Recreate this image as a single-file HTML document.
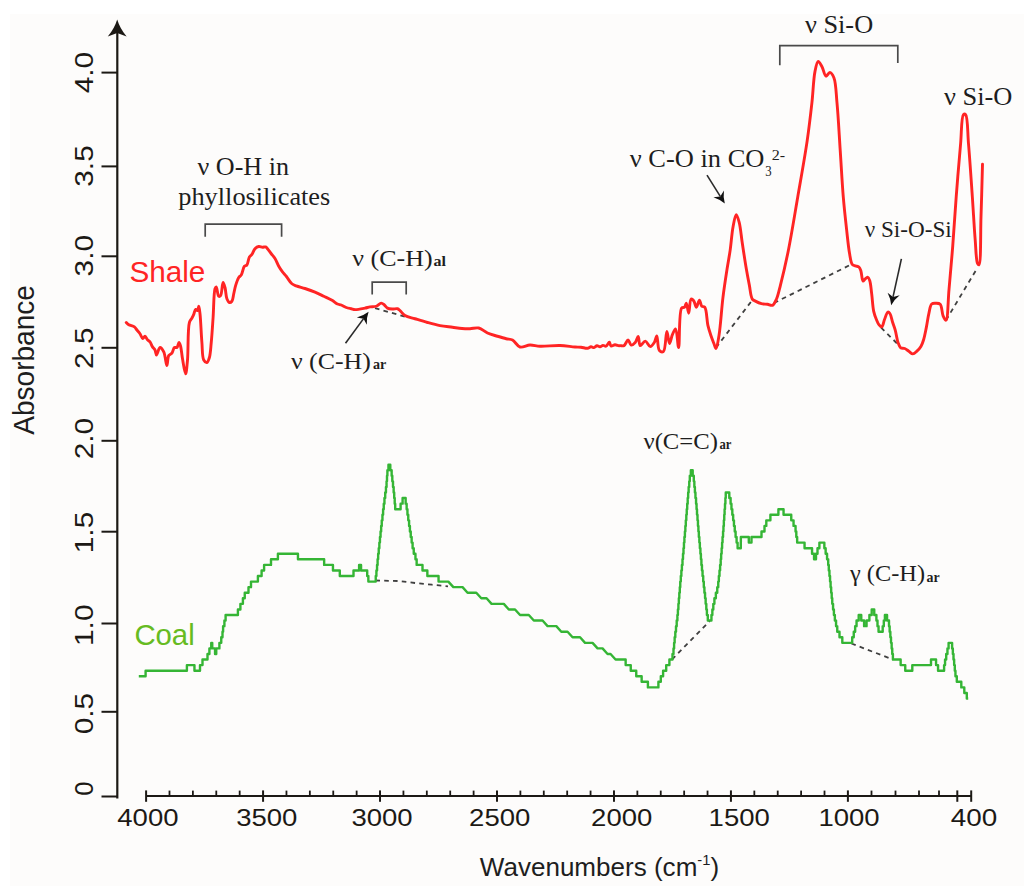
<!DOCTYPE html>
<html><head><meta charset="utf-8"><title>FTIR spectra</title>
<style>html,body{margin:0;padding:0;background:#fff;overflow:hidden}svg{display:block}
</style></head>
<body>
<svg width="1024" height="891" viewBox="0 0 1024 891"><rect x="0" y="0" width="1024" height="891" fill="#ffffff"/>
<rect x="10" y="14" width="1014" height="872" fill="#fdfcfb"/>
<line x1="117.3" y1="30" x2="117.3" y2="798.5" stroke="#1c1915" stroke-width="2.2"/>
<path d="M117.2,19.6 Q120.02,28.9 126.6,36.5 L117.2,32.9 L107.8,36.5 Q114.38,28.9 117.2,19.6 Z" fill="#1c1915"/>
<line x1="101.5" y1="72.6" x2="117.3" y2="72.6" stroke="#1c1915" stroke-width="2"/>
<text transform="translate(93.2,72.6) rotate(-90)" text-anchor="middle" font-family="Liberation Sans" font-size="25.5" fill="#1c1915" textLength="41.5" lengthAdjust="spacingAndGlyphs">4.0</text>
<line x1="101.5" y1="166.4" x2="117.3" y2="166.4" stroke="#1c1915" stroke-width="2"/>
<text transform="translate(93.2,166) rotate(-90)" text-anchor="middle" font-family="Liberation Sans" font-size="25.5" fill="#1c1915" textLength="41.5" lengthAdjust="spacingAndGlyphs">3.5</text>
<line x1="101.5" y1="256.3" x2="117.3" y2="256.3" stroke="#1c1915" stroke-width="2"/>
<text transform="translate(93.2,255.7) rotate(-90)" text-anchor="middle" font-family="Liberation Sans" font-size="25.5" fill="#1c1915" textLength="41.5" lengthAdjust="spacingAndGlyphs">3.0</text>
<line x1="101.5" y1="347.8" x2="117.3" y2="347.8" stroke="#1c1915" stroke-width="2"/>
<text transform="translate(93.2,348.2) rotate(-90)" text-anchor="middle" font-family="Liberation Sans" font-size="25.5" fill="#1c1915" textLength="41.5" lengthAdjust="spacingAndGlyphs">2.5</text>
<line x1="101.5" y1="440.8" x2="117.3" y2="440.8" stroke="#1c1915" stroke-width="2"/>
<text transform="translate(93.2,438.6) rotate(-90)" text-anchor="middle" font-family="Liberation Sans" font-size="25.5" fill="#1c1915" textLength="41.5" lengthAdjust="spacingAndGlyphs">2.0</text>
<line x1="101.5" y1="531.7" x2="117.3" y2="531.7" stroke="#1c1915" stroke-width="2"/>
<text transform="translate(93.2,532.5) rotate(-90)" text-anchor="middle" font-family="Liberation Sans" font-size="25.5" fill="#1c1915" textLength="41.5" lengthAdjust="spacingAndGlyphs">1.5</text>
<line x1="101.5" y1="623.5" x2="117.3" y2="623.5" stroke="#1c1915" stroke-width="2"/>
<text transform="translate(93.2,625.25) rotate(-90)" text-anchor="middle" font-family="Liberation Sans" font-size="25.5" fill="#1c1915" textLength="41.5" lengthAdjust="spacingAndGlyphs">1.0</text>
<line x1="101.5" y1="711.8" x2="117.3" y2="711.8" stroke="#1c1915" stroke-width="2"/>
<text transform="translate(93.2,713.6) rotate(-90)" text-anchor="middle" font-family="Liberation Sans" font-size="25.5" fill="#1c1915" textLength="41.5" lengthAdjust="spacingAndGlyphs">0.5</text>
<line x1="101.5" y1="796.5" x2="117.3" y2="796.5" stroke="#1c1915" stroke-width="2"/>
<text transform="translate(93.2,788.7) rotate(-90)" text-anchor="middle" font-family="Liberation Sans" font-size="25.5" fill="#1c1915">0</text>
<line x1="146.1" y1="796.0" x2="971.2" y2="796.0" stroke="#1c1915" stroke-width="2.2"/>
<line x1="146.1" y1="790.4" x2="146.1" y2="801.8" stroke="#1c1915" stroke-width="2"/>
<line x1="169.49" y1="790.6" x2="169.49" y2="796.0" stroke="#1c1915" stroke-width="1.8"/>
<line x1="192.89" y1="790.6" x2="192.89" y2="796.0" stroke="#1c1915" stroke-width="1.8"/>
<line x1="216.28" y1="790.6" x2="216.28" y2="796.0" stroke="#1c1915" stroke-width="1.8"/>
<line x1="239.67" y1="790.6" x2="239.67" y2="796.0" stroke="#1c1915" stroke-width="1.8"/>
<line x1="263.07" y1="790.4" x2="263.07" y2="801.8" stroke="#1c1915" stroke-width="2"/>
<line x1="286.46" y1="790.6" x2="286.46" y2="796.0" stroke="#1c1915" stroke-width="1.8"/>
<line x1="309.85" y1="790.6" x2="309.85" y2="796.0" stroke="#1c1915" stroke-width="1.8"/>
<line x1="333.25" y1="790.6" x2="333.25" y2="796.0" stroke="#1c1915" stroke-width="1.8"/>
<line x1="356.64" y1="790.6" x2="356.64" y2="796.0" stroke="#1c1915" stroke-width="1.8"/>
<line x1="380.03" y1="790.4" x2="380.03" y2="801.8" stroke="#1c1915" stroke-width="2"/>
<line x1="403.43" y1="790.6" x2="403.43" y2="796.0" stroke="#1c1915" stroke-width="1.8"/>
<line x1="426.82" y1="790.6" x2="426.82" y2="796.0" stroke="#1c1915" stroke-width="1.8"/>
<line x1="450.21" y1="790.6" x2="450.21" y2="796.0" stroke="#1c1915" stroke-width="1.8"/>
<line x1="473.61" y1="790.6" x2="473.61" y2="796.0" stroke="#1c1915" stroke-width="1.8"/>
<line x1="497" y1="790.4" x2="497" y2="801.8" stroke="#1c1915" stroke-width="2"/>
<line x1="520.39" y1="790.6" x2="520.39" y2="796.0" stroke="#1c1915" stroke-width="1.8"/>
<line x1="543.79" y1="790.6" x2="543.79" y2="796.0" stroke="#1c1915" stroke-width="1.8"/>
<line x1="567.18" y1="790.6" x2="567.18" y2="796.0" stroke="#1c1915" stroke-width="1.8"/>
<line x1="590.57" y1="790.6" x2="590.57" y2="796.0" stroke="#1c1915" stroke-width="1.8"/>
<line x1="613.97" y1="790.4" x2="613.97" y2="801.8" stroke="#1c1915" stroke-width="2"/>
<line x1="637.36" y1="790.6" x2="637.36" y2="796.0" stroke="#1c1915" stroke-width="1.8"/>
<line x1="660.75" y1="790.6" x2="660.75" y2="796.0" stroke="#1c1915" stroke-width="1.8"/>
<line x1="684.15" y1="790.6" x2="684.15" y2="796.0" stroke="#1c1915" stroke-width="1.8"/>
<line x1="707.54" y1="790.6" x2="707.54" y2="796.0" stroke="#1c1915" stroke-width="1.8"/>
<line x1="730.93" y1="790.4" x2="730.93" y2="801.8" stroke="#1c1915" stroke-width="2"/>
<line x1="754.33" y1="790.6" x2="754.33" y2="796.0" stroke="#1c1915" stroke-width="1.8"/>
<line x1="777.72" y1="790.6" x2="777.72" y2="796.0" stroke="#1c1915" stroke-width="1.8"/>
<line x1="801.11" y1="790.6" x2="801.11" y2="796.0" stroke="#1c1915" stroke-width="1.8"/>
<line x1="824.51" y1="790.6" x2="824.51" y2="796.0" stroke="#1c1915" stroke-width="1.8"/>
<line x1="847.9" y1="790.4" x2="847.9" y2="801.8" stroke="#1c1915" stroke-width="2"/>
<line x1="871.5" y1="790.6" x2="871.5" y2="796.0" stroke="#1c1915" stroke-width="1.8"/>
<line x1="895.5" y1="790.6" x2="895.5" y2="796.0" stroke="#1c1915" stroke-width="1.8"/>
<line x1="919" y1="790.6" x2="919" y2="796.0" stroke="#1c1915" stroke-width="1.8"/>
<line x1="939" y1="790.6" x2="939" y2="796.0" stroke="#1c1915" stroke-width="1.8"/>
<line x1="957.3" y1="790.4" x2="957.3" y2="801.8" stroke="#1c1915" stroke-width="2"/>
<line x1="971.2" y1="790.4" x2="971.2" y2="801.8" stroke="#1c1915" stroke-width="2"/>
<text x="147.9" y="826" text-anchor="middle" font-family="Liberation Sans" font-size="23.5" fill="#1c1915" textLength="61.2" lengthAdjust="spacingAndGlyphs">4000</text>
<text x="266.8" y="826" text-anchor="middle" font-family="Liberation Sans" font-size="23.5" fill="#1c1915" textLength="61.2" lengthAdjust="spacingAndGlyphs">3500</text>
<text x="382" y="826" text-anchor="middle" font-family="Liberation Sans" font-size="23.5" fill="#1c1915" textLength="61.2" lengthAdjust="spacingAndGlyphs">3000</text>
<text x="499.7" y="826" text-anchor="middle" font-family="Liberation Sans" font-size="23.5" fill="#1c1915" textLength="61.2" lengthAdjust="spacingAndGlyphs">2500</text>
<text x="621.7" y="826" text-anchor="middle" font-family="Liberation Sans" font-size="23.5" fill="#1c1915" textLength="61.2" lengthAdjust="spacingAndGlyphs">2000</text>
<text x="739.2" y="826" text-anchor="middle" font-family="Liberation Sans" font-size="23.5" fill="#1c1915" textLength="61.2" lengthAdjust="spacingAndGlyphs">1500</text>
<text x="849" y="826" text-anchor="middle" font-family="Liberation Sans" font-size="23.5" fill="#1c1915" textLength="61.2" lengthAdjust="spacingAndGlyphs">1000</text>
<text x="974" y="826" text-anchor="middle" font-family="Liberation Sans" font-size="23.5" fill="#1c1915" textLength="46.5" lengthAdjust="spacingAndGlyphs">400</text>
<text transform="translate(34.2,359.9) rotate(-90)" text-anchor="middle" font-family="Liberation Sans" font-size="30" fill="#1e1e1e" textLength="149.5" lengthAdjust="spacingAndGlyphs">Absorbance</text>
<text transform="translate(479.8,876.4) scale(0.983,1)" x="0" y="0" font-family="Liberation Sans" font-size="26.5" fill="#1e1e1e">Wavenumbers (cm<tspan font-size="15" dy="-11">-1</tspan><tspan dy="11">)</tspan></text>
<path d="M375,308.1 L405.6,316.9" fill="none" stroke="#404040" stroke-width="1.8" stroke-dasharray="4.6 4.2"/>
<path d="M716,347.6 L752.3,300.1" fill="none" stroke="#404040" stroke-width="1.8" stroke-dasharray="4.6 4.2"/>
<path d="M774,303 L850,265" fill="none" stroke="#404040" stroke-width="1.8" stroke-dasharray="4.6 4.2"/>
<path d="M881.1,327.6 L898.7,345.1" fill="none" stroke="#404040" stroke-width="1.8" stroke-dasharray="4.6 4.2"/>
<path d="M946,320.2 L977.5,267.7" fill="none" stroke="#404040" stroke-width="1.8" stroke-dasharray="4.6 4.2"/>
<path d="M375.4,580.5 L398,581 L415,583 L431.8,584.7 L448,586.4" fill="none" stroke="#404040" stroke-width="1.8" stroke-dasharray="4.6 4.2"/>
<path d="M672,659.5 L709.8,620.9" fill="none" stroke="#404040" stroke-width="1.8" stroke-dasharray="4.6 4.2"/>
<path d="M851.4,643.5 L893,659.5" fill="none" stroke="#404040" stroke-width="1.8" stroke-dasharray="4.6 4.2"/>
<path d="M126.25,322.5 C126.25,322.5 127.67,324.09 128.75,324.75 C130.19,325.63 132.99,325.88 134.4,326.9 C135.54,327.73 136.02,328.92 136.9,330 C137.87,331.19 139.05,332.38 140,333.75 C141.01,335.2 141.79,338.37 142.75,338.5 C143.48,338.6 144.27,336.19 145,336.25 C145.85,336.32 146.6,338.77 147.5,339.75 C148.28,340.61 149.25,340.94 150,341.9 C150.98,343.15 151.58,345.47 152.5,346.9 C153.27,348.1 154.35,348.77 155,350 C155.74,351.41 155.81,354.95 156.5,355 C157.37,355.06 158.65,347.68 160,347.5 C161.12,347.35 162.73,349.86 163.75,351.9 C165.35,355.08 166.03,365.62 166.9,365.6 C167.64,365.58 167.49,357.7 168.75,355.6 C169.54,354.28 171.02,354.24 171.9,353.1 C172.99,351.7 173.28,348.23 174.4,347.5 C175.12,347.04 176.21,347.96 176.9,347.5 C177.91,346.83 178.35,342.5 179,342.5 C179.57,342.5 180.13,344.6 180.6,346.25 C181.43,349.16 181.72,354.4 182.5,358.75 C183.36,363.53 184.76,373.78 185.6,373.75 C186.4,373.72 186.96,365.72 187.5,360 C188.39,350.59 187.57,328.78 189.4,322.5 C190.07,320.19 191.15,319.51 191.9,318.1 C192.58,316.82 193.17,315.74 193.75,314.4 C194.41,312.88 194.77,309.68 195.6,309.4 C196.14,309.22 197.01,310.79 197.5,310.6 C198.2,310.33 198.37,306.23 198.75,306.25 C199.24,306.28 199.61,310.43 200,313.75 C200.75,320.22 201.18,334.11 201.9,342.5 C202.46,349.06 202.06,356.93 203.75,360 C204.56,361.47 206.01,362.7 206.9,362.5 C207.95,362.27 208.74,359.69 209.4,357.5 C210.49,353.91 210.69,348.14 211.25,342.5 C211.97,335.23 212.5,326.13 213.1,317.5 C213.75,308.25 213.69,292.57 215,288.75 C215.36,287.69 215.84,286.83 216.25,286.9 C217.11,287.04 217.55,295.61 218.75,296.25 C219.29,296.54 220.07,296.22 220.6,295.6 C221.99,293.98 222.16,282.58 223.1,282.5 C223.69,282.45 224.45,285.47 225,287.5 C225.81,290.47 225.84,296.08 226.9,298.75 C227.57,300.43 228.44,302.25 229.4,302.5 C230.16,302.7 231.24,302.07 231.9,301.25 C233,299.88 233.14,296.3 233.75,293.75 C234.38,291.09 234.78,288.28 235.6,285.6 C236.44,282.86 237.54,279.35 238.75,277.5 C239.52,276.32 240.49,276.2 241.25,275 C242.49,273.05 243.05,267.77 244.4,266.25 C245.14,265.41 246.2,265.83 246.9,265 C248.13,263.55 248.29,258.74 249.4,256.9 C250.12,255.71 251.1,255.47 251.9,254.4 C252.99,252.95 253.7,250.1 255,248.75 C256.07,247.64 257.46,246.72 258.75,246.5 C259.96,246.29 261.31,247.2 262.5,247.25 C263.58,247.3 264.75,246.61 265.6,246.9 C266.39,247.17 266.8,247.95 267.5,248.75 C268.58,249.98 269.99,252.11 271.25,253.75 C272.49,255.36 273.84,256.65 275,258.5 C276.38,260.71 277.42,263.91 278.75,266.25 C279.93,268.33 281.19,270.18 282.5,271.9 C283.7,273.49 284.9,274.58 286.25,276.25 C287.97,278.39 289.94,282.12 291.9,283.75 C293.31,284.92 294.51,285.22 296.25,285.9 C298.63,286.83 302,287.52 305,288.5 C308.24,289.56 311.81,290.77 315,292.1 C318.05,293.37 320.84,294.84 323.75,296.25 C326.67,297.67 330.03,299.16 332.5,300.6 C334.44,301.74 335.89,303.26 337.5,304 C338.79,304.59 339.94,304.5 341.25,305 C342.83,305.6 344.55,306.87 346.25,307.5 C347.88,308.1 349.7,308.38 351.25,308.75 C352.59,309.07 353.44,309.54 355,309.6 C357.53,309.69 362.25,308.64 365,308.1 C366.96,307.72 368.23,307.2 370,306.9 C371.96,306.56 374.35,306.91 376.25,306.25 C378.09,305.61 379.77,303.11 381.25,303.1 C382.42,303.09 383.4,304.22 384.4,305 C385.49,305.85 386.22,307.43 387.5,308.1 C388.88,308.82 390.83,308.89 392.5,309 C394.16,309.11 396.17,308.35 397.5,308.75 C398.55,309.07 399.06,309.79 400,310.6 C401.42,311.82 402.85,314.3 405,315.6 C407.62,317.19 411.48,317.67 415,318.75 C418.93,319.96 423.32,321.36 427.5,322.5 C431.65,323.64 435.81,324.81 440,325.6 C444.14,326.38 448.62,326.74 452.5,327.25 C455.88,327.7 458.96,328.25 462,328.5 C464.78,328.73 467.28,328.82 470,328.75 C472.85,328.67 475.93,327.38 478.75,328 C481.77,328.67 484.41,331.63 487.5,333 C490.65,334.4 494.27,335.26 497.5,336.25 C500.51,337.17 503.57,338.1 506.25,338.75 C508.5,339.29 510.47,338.96 512.5,340 C515.08,341.32 517.08,346.17 520,347 C522.91,347.83 526.66,345.12 530,345 C533.32,344.88 536.09,346.08 540,346.25 C545.51,346.49 553.82,345.31 560,345.5 C565.37,345.67 571.12,346.74 575,347 C577.45,347.16 578.97,347 581,347.2 C583.13,347.41 585.69,348.46 587.5,348.25 C588.87,348.09 589.87,346.88 591,346.8 C592.03,346.73 593.03,347.74 594,347.6 C595.03,347.45 595.97,345.91 597,345.8 C597.98,345.69 599.01,346.86 600,346.8 C601.01,346.74 601.98,345.49 603,345.4 C603.98,345.31 605.05,346.49 606,346.2 C607.22,345.83 608.55,342.17 609.4,342.3 C610.15,342.42 610.08,345.57 611,346 C611.93,346.43 613.66,344.83 615,344.8 C616.33,344.77 618.11,345.78 619,345.8 C619.44,345.81 619.55,345.64 620,345.6 C620.89,345.51 622.8,346.22 624,345.6 C625.59,344.78 626.88,339.84 628.1,339.9 C629.23,339.96 629.83,344.79 631.1,345.1 C632.25,345.38 634.07,343.75 635.2,342.5 C636.53,341.03 637.4,336.4 638.2,336.5 C639.14,336.62 638.82,345.15 640.2,345.6 C641.38,345.99 643.65,341.01 645.3,341.1 C647.02,341.19 648.71,346.57 650.3,346.6 C651.69,346.62 653.24,344.16 654.3,342.5 C655.47,340.66 656.06,335.83 656.8,335.9 C657.87,336 657.44,348.5 659.4,350.6 C660.43,351.71 662.32,352.3 663.4,351.6 C665.81,350.03 665.76,331.42 666.9,331.4 C667.78,331.38 668.49,343.45 669.5,343.5 C670.39,343.55 671.34,336.99 672.5,334.4 C673.43,332.31 674.73,328.84 675.6,329 C677.11,329.28 677.73,347.64 678.6,347.6 C679.87,347.55 678.62,312.01 681.6,308.2 C682.44,307.12 683.84,307.91 684.6,307.2 C685.5,306.36 685.75,303.06 686.3,303.1 C687.14,303.17 687.95,313.22 688.7,313.2 C689.58,313.17 689.56,299.8 691.1,299.1 C691.81,298.78 692.94,299.81 693.7,300.7 C694.85,302.05 695.47,307.2 696.4,307.2 C697.37,307.2 698.47,300.09 699.4,300.1 C700.26,300.11 700.62,305.08 701.8,306.2 C702.62,306.98 703.97,306.23 704.8,307.2 C706.81,309.55 706.7,320.25 707.9,325.4 C708.81,329.29 709.84,332.35 710.9,335.5 C711.85,338.34 712.97,341.14 713.9,343.5 C714.65,345.4 715.32,348.66 716,348.6 C717.06,348.51 718.08,341.05 719,335.5 C720.56,326.1 721.53,308.91 723,297.1 C724.27,286.93 725.8,277.19 727.1,268.8 C728.14,262.06 729.16,257.11 730.1,250.6 C731.18,243.12 731.83,233 733.1,226.4 C734,221.73 735.07,214.66 736.2,214.6 C737.13,214.55 738.34,219.07 739.2,222.3 C740.55,227.38 741.11,235.33 742.2,242.5 C743.45,250.69 744.98,261.11 746.3,268.8 C747.33,274.83 748.27,279.71 749.3,284.9 C750.27,289.79 750.6,296.63 752.3,299.1 C753.16,300.34 754.16,300.45 755.4,301.1 C757.04,301.96 759.35,303.07 761.4,303.6 C763.39,304.12 765.57,304 767.5,304.3 C769.26,304.58 771.09,305.9 772.5,305.3 C774.21,304.57 775.33,301.61 776.5,299 C778.11,295.4 778.96,290.93 780.4,285.3 C782.68,276.41 785.71,263.52 788.3,250.7 C791.5,234.84 794.59,215.29 797.7,197.2 C800.89,178.6 804.72,157.58 807.2,140.6 C809.22,126.78 810.56,114.91 811.9,102.9 C813.12,91.94 813.45,78.91 815,71.4 C815.89,67.07 816.83,61.62 818.2,61.4 C819.28,61.23 820.82,64.6 822,66.7 C823.48,69.34 824.42,75.89 826,76.2 C827.14,76.42 828.55,72.32 829.8,72.4 C831.19,72.49 832.82,75.07 833.9,77.7 C836.01,82.82 836.07,93.18 837,102.9 C838.27,116.17 839.15,134.37 840.2,150.1 C841.25,165.81 842.12,183.08 843.3,197.2 C844.27,208.76 845.39,218.8 846.5,228.7 C847.5,237.55 848.39,247.26 849.6,253.8 C850.39,258.08 850.69,262.43 852.2,264.3 C853.08,265.39 854.38,265.45 855.5,265.9 C856.61,266.35 858.02,266.24 858.9,267 C859.88,267.85 860.32,269.32 860.9,271 C861.79,273.56 861.92,280.78 863,281.1 C863.56,281.27 864.26,279.74 865,279.1 C865.81,278.4 866.93,276.95 867.7,277.1 C868.52,277.26 869.14,278.85 869.7,280.4 C870.75,283.31 871.07,289.1 871.7,293.9 C872.41,299.35 872.66,306.72 873.7,311.4 C874.42,314.66 875.41,317.1 876.4,319.5 C877.23,321.51 878.02,323.62 879.1,324.9 C879.9,325.86 881.02,327.13 881.8,326.9 C882.99,326.54 883.49,321.95 884.5,319.5 C885.52,317.01 886.71,312.42 887.9,312.1 C888.55,311.92 889.3,312.68 889.9,313.5 C891.06,315.08 891.68,319.36 892.6,322.2 C893.49,324.95 894.47,327.31 895.3,330.3 C896.3,333.91 896.87,339.22 898,342.4 C898.79,344.62 899.4,346.83 900.7,347.8 C901.77,348.59 903.41,347.99 904.7,348.5 C906.12,349.06 907.44,350.3 908.8,351.2 C910.14,352.1 911.46,353.89 912.8,353.9 C914.16,353.91 915.62,352.33 916.9,351.2 C918.34,349.93 919.81,348.31 920.9,346.5 C922.09,344.53 922.79,342.33 923.6,339.7 C924.65,336.28 925.44,331.85 926.3,327.6 C927.25,322.92 927.96,317.07 929,312.8 C929.81,309.46 930.1,305.4 931.7,304 C932.8,303.04 934.58,303.26 936,303.3 C937.41,303.34 939.11,303.14 940.2,304.2 C942.02,305.96 941.84,312.93 943.1,315.8 C943.94,317.71 945.2,320.4 946,320.2 C947.94,319.72 947.98,300.72 949,289.6 C950.22,276.31 951.57,260.85 952.75,245.8 C954,229.8 954.96,213 956.25,196.25 C957.57,179 959.24,158.69 960.6,143.75 C961.62,132.61 961.23,116.65 963.5,114.6 C964.11,114.05 964.99,114.05 965.6,114.6 C967.87,116.65 967.54,132.61 968.5,143.75 C969.78,158.69 971.14,179.55 972.3,196.25 C973.36,211.5 974.19,227.7 975.2,240 C975.94,248.99 976.05,260.23 977.5,263.3 C977.94,264.23 978.56,264.97 979,264.8 C981.08,263.99 980.43,233.09 981,216.7 C981.6,199.58 982.5,164.2 982.5,164.2" fill="none" stroke="#ff2424" stroke-width="2.9" stroke-linejoin="round" stroke-linecap="round"/>
<path d="M140,676.25 L145.6,676.25 L145.6,670.68 L186.9,670.68 L186.9,665.11 L194.45,665.11 L194.45,670.68 L200,670.68 L200,665.11 L202.5,665.11 L202.5,659.55 L207.5,659.55 L207.5,653.98 L209.4,653.98 L209.4,648.41 L211.25,648.41 L211.25,642.84 L212.25,642.84 L212.25,648.41 L215.05,648.41 L215.05,653.98 L216.25,653.98 L216.25,648.41 L219.4,648.41 L219.4,642.84 L221.25,642.84 L221.25,637.27 L222.5,637.27 L222.5,631.71 L223.1,631.71 L223.1,626.14 L224.4,626.14 L224.4,620.57 L225.6,620.57 L225.6,615 L237.9,615 L237.9,609.43 L240.4,609.43 L240.4,603.87 L242.9,603.87 L242.9,598.3 L244.75,598.3 L244.75,592.73 L248.5,592.73 L248.5,587.16 L251,587.16 L251,581.59 L257.9,581.59 L257.9,576.03 L261.6,576.03 L261.6,570.46 L264.1,570.46 L264.1,564.89 L271,564.89 L271,559.32 L277.9,559.32 L277.9,553.75 L297.95,553.75 L297.95,559.32 L324.15,559.32 L324.15,564.89 L332.95,564.89 L332.95,570.46 L339.8,570.46 L339.8,576.03 L353.5,576.03 L353.5,570.46 L359.1,570.46 L359.1,564.89 L361.05,564.89 L361.05,570.46 L367.2,570.46 L367.2,576.03 L368.35,576.03 L368.35,581.59 L375.75,581.59 L375.75,576.03 L376.4,576.03 L376.4,570.46 L377.05,570.46 L377.05,564.89 L377.6,564.89 L377.6,559.32 L378.15,559.32 L378.15,553.75 L378.75,553.75 L378.75,548.19 L379.35,548.19 L379.35,542.62 L379.95,542.62 L379.95,537.05 L380.55,537.05 L380.55,531.48 L381.15,531.48 L381.15,525.91 L381.75,525.91 L381.75,520.35 L382.45,520.35 L382.45,514.78 L383.1,514.78 L383.1,509.21 L383.75,509.21 L383.75,503.64 L384.45,503.64 L384.45,498.07 L385.2,498.07 L385.2,492.51 L385.95,492.51 L385.95,486.94 L386.55,486.94 L386.55,481.37 L387,481.37 L387,475.8 L387.4,475.8 L387.4,470.23 L388.45,470.23 L388.45,464.67 L390.3,464.67 L390.3,470.23 L391.65,470.23 L391.65,475.8 L392.3,475.8 L392.3,481.37 L393,481.37 L393,486.94 L393.65,486.94 L393.65,492.51 L394.2,492.51 L394.2,498.07 L394.7,498.07 L394.7,503.64 L395.2,503.64 L395.2,509.21 L400.6,509.21 L400.6,503.64 L402.6,503.64 L402.6,498.07 L405.65,498.07 L405.65,503.64 L406.65,503.64 L406.65,509.21 L407.45,509.21 L407.45,514.78 L408.25,514.78 L408.25,520.35 L409.1,520.35 L409.1,525.91 L409.9,525.91 L409.9,531.48 L410.75,531.48 L410.75,537.05 L411.65,537.05 L411.65,542.62 L412.6,542.62 L412.6,548.19 L413.75,548.19 L413.75,553.75 L415.45,553.75 L415.45,559.32 L416.65,559.32 L416.65,564.89 L422.5,564.89 L422.5,570.46 L427.35,570.46 L427.35,576.03 L438.55,576.03 L438.55,581.59 L448.35,581.59 L453.35,587.16 L462.55,587.16 L467.55,592.73 L476.3,592.73 L481.3,598.3 L486.55,598.3 L491.55,603.87 L503.8,603.87 L508.8,609.43 L515.05,609.43 L520.05,615 L528.8,615 L533.8,620.57 L542.55,620.57 L547.55,626.14 L556.3,626.14 L561.3,631.71 L567.55,631.71 L572.55,637.27 L580.05,637.27 L585.05,642.84 L592.55,642.84 L597.55,648.41 L602.55,648.41 L607.55,653.98 L610.55,653.98 L615.55,659.55 L625.65,659.55 L625.65,665.11 L630.75,665.11 L630.75,670.68 L636.25,670.68 L636.25,676.25 L641.65,676.25 L641.65,681.82 L647.9,681.82 L647.9,687.39 L658.4,687.39 L658.4,681.82 L660.8,681.82 L660.8,676.25 L663.1,676.25 L663.1,670.68 L666.2,670.68 L666.2,665.11 L669.4,665.11 L669.4,659.55 L672.5,659.55 L672.5,653.98 L673.5,653.98 L673.5,648.41 L674.1,648.41 L674.1,642.84 L674.65,642.84 L674.65,637.27 L675.3,637.27 L675.3,631.71 L676,631.71 L676,626.14 L676.7,626.14 L676.7,620.57 L677.4,620.57 L677.4,615 L677.9,615 L677.9,609.43 L678.4,609.43 L678.4,603.87 L678.85,603.87 L678.85,598.3 L679.3,598.3 L679.3,592.73 L679.8,592.73 L679.8,587.16 L680.25,587.16 L680.25,581.59 L680.8,581.59 L680.8,576.03 L681.35,576.03 L681.35,570.46 L681.9,570.46 L681.9,564.89 L682.5,564.89 L682.5,559.32 L683,559.32 L683,553.75 L683.5,553.75 L683.5,548.19 L683.95,548.19 L683.95,542.62 L684.4,542.62 L684.4,537.05 L684.9,537.05 L684.9,531.48 L685.35,531.48 L685.35,525.91 L685.8,525.91 L685.8,520.35 L686.3,520.35 L686.3,514.78 L686.75,514.78 L686.75,509.21 L687.2,509.21 L687.2,503.64 L687.7,503.64 L687.7,498.07 L688.15,498.07 L688.15,492.51 L688.65,492.51 L688.65,486.94 L689.25,486.94 L689.25,481.37 L689.8,481.37 L689.8,475.8 L690.85,475.8 L690.85,470.23 L692.7,470.23 L692.7,475.8 L693.8,475.8 L693.8,481.37 L694.35,481.37 L694.35,486.94 L694.9,486.94 L694.9,492.51 L695.45,492.51 L695.45,498.07 L696.05,498.07 L696.05,503.64 L696.55,503.64 L696.55,509.21 L697,509.21 L697,514.78 L697.5,514.78 L697.5,520.35 L697.95,520.35 L697.95,525.91 L698.4,525.91 L698.4,531.48 L698.85,531.48 L698.85,537.05 L699.35,537.05 L699.35,542.62 L699.85,542.62 L699.85,548.19 L700.4,548.19 L700.4,553.75 L700.9,553.75 L700.9,559.32 L701.4,559.32 L701.4,564.89 L701.95,564.89 L701.95,570.46 L702.55,570.46 L702.55,576.03 L703.2,576.03 L703.2,581.59 L703.8,581.59 L703.8,587.16 L704.4,587.16 L704.4,592.73 L705.05,592.73 L705.05,598.3 L705.65,598.3 L705.65,603.87 L706.3,603.87 L706.3,609.43 L706.9,609.43 L706.9,615 L707.8,615 L707.8,620.57 L711.45,620.57 L711.45,615 L712.35,615 L712.35,609.43 L713.3,609.43 L713.3,603.87 L714.4,603.87 L714.4,598.3 L715.85,598.3 L715.85,592.73 L717.25,592.73 L717.25,587.16 L718.25,587.16 L718.25,581.59 L718.85,581.59 L718.85,576.03 L719.5,576.03 L719.5,570.46 L720.1,570.46 L720.1,564.89 L720.7,564.89 L720.7,559.32 L721.15,559.32 L721.15,553.75 L721.65,553.75 L721.65,548.19 L722.1,548.19 L722.1,542.62 L722.55,542.62 L722.55,537.05 L723.05,537.05 L723.05,531.48 L723.45,531.48 L723.45,525.91 L723.85,525.91 L723.85,520.35 L724.25,520.35 L724.25,514.78 L724.6,514.78 L724.6,509.21 L725,509.21 L725,503.64 L725.4,503.64 L725.4,498.07 L725.75,498.07 L725.75,492.51 L729.3,492.51 L729.3,498.07 L730.6,498.07 L730.6,503.64 L731.45,503.64 L731.45,509.21 L732.3,509.21 L732.3,514.78 L733.15,514.78 L733.15,520.35 L733.95,520.35 L733.95,525.91 L734.75,525.91 L734.75,531.48 L735.6,531.48 L735.6,537.05 L736.6,537.05 L736.6,542.62 L737.6,542.62 L737.6,548.19 L740.8,548.19 L740.8,542.62 L740.85,542.62 L740.85,537.05 L748.8,537.05 L748.8,542.62 L751.5,542.62 L751.5,537.05 L761.5,537.05 L761.5,531.48 L764.5,531.48 L764.5,525.91 L766.3,525.91 L766.3,520.35 L770.4,520.35 L770.4,514.78 L778.4,514.78 L778.4,509.21 L783.55,509.21 L783.55,514.78 L791.25,514.78 L791.25,520.35 L793.55,520.35 L793.55,525.91 L795.55,525.91 L795.55,531.48 L796.3,531.48 L796.3,537.05 L797.15,537.05 L797.15,542.62 L804.55,542.62 L804.55,548.19 L812.05,548.19 L812.05,553.75 L814.05,553.75 L814.05,559.32 L816,559.32 L816,553.75 L817.5,553.75 L817.5,548.19 L819.4,548.19 L819.4,542.62 L824.35,542.62 L824.35,548.19 L825.65,548.19 L825.65,553.75 L827.05,553.75 L827.05,559.32 L828.2,559.32 L828.2,564.89 L828.8,564.89 L828.8,570.46 L829.45,570.46 L829.45,576.03 L830.05,576.03 L830.05,581.59 L830.6,581.59 L830.6,587.16 L831.15,587.16 L831.15,592.73 L831.7,592.73 L831.7,598.3 L832.25,598.3 L832.25,603.87 L833.05,603.87 L833.05,609.43 L833.9,609.43 L833.9,615 L834.85,615 L834.85,620.57 L836.05,620.57 L836.05,626.14 L837.25,626.14 L837.25,631.71 L839.5,631.71 L839.5,637.27 L842.3,637.27 L842.3,642.84 L852.2,642.84 L852.2,637.27 L853.75,637.27 L853.75,631.71 L855.15,631.71 L855.15,626.14 L856.55,626.14 L856.55,620.57 L858.7,620.57 L858.7,615 L861.25,615 L861.25,620.57 L864.1,620.57 L864.1,626.14 L866.55,626.14 L866.55,620.57 L869.4,620.57 L869.4,615 L871.7,615 L871.7,609.43 L874.25,609.43 L874.25,615 L876.4,615 L876.4,620.57 L877.5,620.57 L877.5,626.14 L878.55,626.14 L878.55,631.71 L882.7,631.71 L882.7,626.14 L883.8,626.14 L883.8,620.57 L884.9,620.57 L884.9,615 L887.05,615 L887.05,620.57 L889,620.57 L889,626.14 L889.65,626.14 L889.65,631.71 L890.35,631.71 L890.35,637.27 L891,637.27 L891,642.84 L891.65,642.84 L891.65,648.41 L892.25,648.41 L892.25,653.98 L892.9,653.98 L892.9,659.55 L900.65,659.55 L900.65,665.11 L905.25,665.11 L905.25,670.68 L912.3,670.68 L912.3,665.11 L931,665.11 L931,659.55 L936.05,659.55 L936.05,665.11 L938.05,665.11 L938.05,670.68 L944.1,670.68 L944.1,665.11 L945.05,665.11 L945.05,659.55 L946.2,659.55 L946.2,653.98 L947.45,653.98 L947.45,648.41 L948.6,648.41 L948.6,642.84 L952.1,642.84 L952.1,648.41 L952.85,648.41 L952.85,653.98 L953.5,653.98 L953.5,659.55 L954.15,659.55 L954.15,665.11 L954.8,665.11 L954.8,670.68 L955.45,670.68 L955.45,676.25 L956.8,676.25 L956.8,681.82 L961.3,681.82 L961.3,687.39 L964.3,687.39 L964.3,692.95 L966.8,692.95 L966.8,698.52 L967,698.52" fill="none" stroke="#35b535" stroke-width="2.4" stroke-linejoin="round" stroke-linecap="square"/>
<path d="M205.2,236.8 V224.2 H281.6 V236.8" fill="none" stroke="#4a4a4a" stroke-width="1.7"/>
<path d="M372.2,294.5 V282.2 H406.2 V294.5" fill="none" stroke="#4a4a4a" stroke-width="1.7"/>
<path d="M779.8,65.2 V45.7 H897.8 V63.1" fill="none" stroke="#4a4a4a" stroke-width="1.7"/>
<line x1="345.5" y1="343.2" x2="363.56" y2="318.65" stroke="#2a2a2a" stroke-width="1.6"/><path d="M368.6,311.8 Q366.35,318 366.78,324.74 L363.56,318.65 L356.79,317.39 Q363.35,315.79 368.6,311.8 Z" fill="#111"/>
<line x1="707" y1="175.2" x2="720.29" y2="196.4" stroke="#2a2a2a" stroke-width="1.6"/><path d="M724.8,203.6 Q719.86,199.23 713.44,197.15 L720.29,196.4 L723.95,190.56 Q723.02,197.25 724.8,203.6 Z" fill="#111"/>
<line x1="901.4" y1="258.9" x2="893.03" y2="296.9" stroke="#2a2a2a" stroke-width="1.6"/><path d="M891.2,305.2 Q890.74,298.62 887.62,292.64 L893.03,296.9 L899.73,295.3 Q894.38,299.42 891.2,305.2 Z" fill="#111"/>
<text x="197.5" y="174.9" font-family="Liberation Serif" font-size="25.5" fill="#1e1e1e" textLength="91.5" lengthAdjust="spacingAndGlyphs">ν O-H in</text>
<text x="178.3" y="205.3" font-family="Liberation Serif" font-size="26" fill="#1e1e1e" textLength="152" lengthAdjust="spacingAndGlyphs">phyllosilicates</text>
<text x="352.3" y="266" font-family="Liberation Serif" font-size="24" fill="#1e1e1e" textLength="80.3" lengthAdjust="spacingAndGlyphs">ν (C-H)</text>
<text x="433.6" y="266.4" font-family="Liberation Serif" font-size="14" fill="#1e1e1e" textLength="12.4" lengthAdjust="spacingAndGlyphs" font-weight="bold">al</text>
<text x="290.9" y="369.2" font-family="Liberation Serif" font-size="24" fill="#1e1e1e" textLength="80" lengthAdjust="spacingAndGlyphs">ν (C-H)</text>
<text x="372.9" y="369.4" font-family="Liberation Serif" font-size="14" fill="#1e1e1e" textLength="13.3" lengthAdjust="spacingAndGlyphs" font-weight="bold">ar</text>
<text x="629.7" y="167.2" font-family="Liberation Serif" font-size="24.5" fill="#1e1e1e" textLength="134.8" lengthAdjust="spacingAndGlyphs">ν C-O in CO</text>
<text x="765.3" y="175.8" font-family="Liberation Serif" font-size="15" fill="#1e1e1e" textLength="6.4" lengthAdjust="spacingAndGlyphs">3</text>
<text x="771.8" y="160.2" font-family="Liberation Serif" font-size="15" fill="#1e1e1e" textLength="13.4" lengthAdjust="spacingAndGlyphs">2-</text>
<text x="804.9" y="33" font-family="Liberation Serif" font-size="24.5" fill="#1e1e1e" textLength="68.3" lengthAdjust="spacingAndGlyphs">ν Si-O</text>
<text x="944" y="104.7" font-family="Liberation Serif" font-size="26" fill="#1e1e1e" textLength="68.4" lengthAdjust="spacingAndGlyphs">ν Si-O</text>
<text x="864.7" y="236.9" font-family="Liberation Serif" font-size="23.5" fill="#1e1e1e" textLength="87" lengthAdjust="spacingAndGlyphs">ν Si-O-Si</text>
<text x="643.5" y="448.7" font-family="Liberation Serif" font-size="24" fill="#1e1e1e" textLength="74.4" lengthAdjust="spacingAndGlyphs">ν(C=C)</text>
<text x="719.5" y="448.9" font-family="Liberation Serif" font-size="14" fill="#1e1e1e" textLength="11.9" lengthAdjust="spacingAndGlyphs" font-weight="bold">ar</text>
<text x="850" y="581.4" font-family="Liberation Serif" font-size="24" fill="#1e1e1e" textLength="75" lengthAdjust="spacingAndGlyphs">γ (C-H)</text>
<text x="926.6" y="581.6" font-family="Liberation Serif" font-size="14" fill="#1e1e1e" textLength="13.1" lengthAdjust="spacingAndGlyphs" font-weight="bold">ar</text>
<text x="129.4" y="282.2" font-family="Liberation Sans" font-size="29" fill="#ff2424" textLength="76" lengthAdjust="spacingAndGlyphs">Shale</text>
<text x="134.4" y="644.7" font-family="Liberation Sans" font-size="29.5" fill="#66bb22" textLength="60.3" lengthAdjust="spacingAndGlyphs">Coal</text></svg>
</body></html>
